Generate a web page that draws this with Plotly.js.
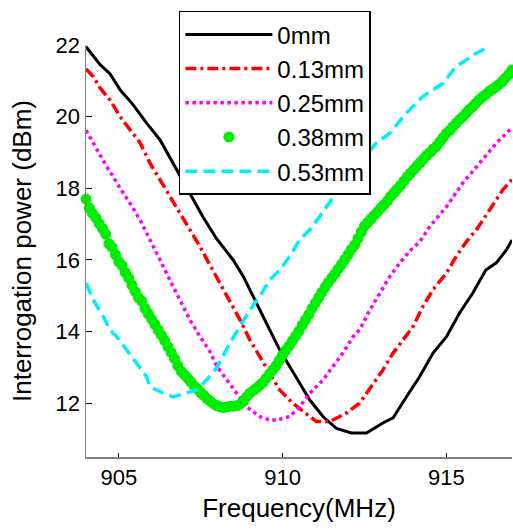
<!DOCTYPE html>
<html>
<head>
<meta charset="utf-8">
<script src="https://cdn.plot.ly/plotly-3.0.1.min.js"></script>
<style>html,body{margin:0;padding:0;background:#fff;}#chart{width:513px;height:530px;}</style>
</head>
<body>
<div id="chart"></div>
<script>
// Legend labels
const seriesNames = ["0mm", "0.13mm", "0.25mm", "0.38mm", "0.53mm"];

// 0mm (black solid)
const x0mm = [904.0, 904.2, 904.43, 904.73, 905.04, 905.44, 905.85, 906.26, 906.56, 906.87, 907.17, 907.57, 907.98, 908.49, 908.8, 909.1, 909.4, 909.6, 909.91, 910.22, 910.52, 910.83, 911.23, 911.64, 912.1, 912.56, 913.06, 913.37, 913.78, 914.18, 914.59, 915.0, 915.4, 915.8, 916.2, 916.52, 916.83, 917.0];
const y0mm = [21.95, 21.72, 21.45, 21.2, 20.75, 20.33, 19.82, 19.35, 18.85, 18.33, 17.87, 17.2, 16.6, 16.0, 15.54, 14.98, 14.42, 14.05, 13.49, 13.02, 12.56, 12.09, 11.63, 11.3, 11.17, 11.17, 11.45, 11.59, 12.18, 12.74, 13.4, 13.86, 14.52, 15.07, 15.72, 15.92, 16.28, 16.56];

// 0.13mm (red dash-dot)
const x013 = [904.0, 904.22, 904.43, 904.73, 905.04, 905.34, 905.65, 905.95, 906.26, 906.56, 906.87, 907.17, 907.48, 907.78, 908.09, 908.39, 908.7, 909.0, 909.3, 909.6, 909.91, 910.31, 910.72, 911.03, 911.44, 911.95, 912.35, 912.76, 913.06, 913.37, 913.67, 913.98, 914.28, 914.59, 915.0, 915.3, 915.6, 915.91, 916.32, 916.72, 917.0];
const y013 = [21.33, 21.12, 20.8, 20.47, 20.0, 19.63, 19.27, 18.71, 18.24, 17.77, 17.31, 16.84, 16.37, 15.86, 15.35, 14.89, 14.33, 13.77, 13.3, 12.84, 12.37, 12.0, 11.72, 11.49, 11.49, 11.73, 12.0, 12.56, 12.93, 13.4, 13.77, 14.14, 14.7, 15.17, 15.63, 16.1, 16.5, 16.84, 17.4, 17.96, 18.24];

// 0.25mm (magenta dotted)
const x025 = [904.0, 904.22, 904.43, 904.63, 904.83, 905.04, 905.34, 905.65, 905.85, 906.05, 906.26, 906.56, 906.87, 907.17, 907.48, 907.78, 907.98, 908.29, 908.6, 908.9, 909.3, 909.6, 909.81, 910.22, 910.52, 910.83, 911.23, 911.54, 911.84, 912.15, 912.35, 912.66, 912.96, 913.27, 913.57, 913.88, 914.18, 914.49, 915.0, 915.5, 916.01, 916.52, 916.93, 917.0];
const y025 = [19.62, 19.26, 18.89, 18.61, 18.33, 18.0, 17.59, 17.12, 16.75, 16.4, 16.0, 15.44, 14.89, 14.33, 13.86, 13.45, 13.05, 12.65, 12.28, 11.9, 11.63, 11.53, 11.53, 11.63, 11.9, 12.28, 12.65, 13.02, 13.4, 13.86, 14.05, 14.6, 15.07, 15.54, 15.91, 16.25, 16.5, 16.93, 17.49, 18.15, 18.7, 19.26, 19.63, 19.7];

// 0.38mm (green markers)
const x038 = [904.0, 904.1, 904.2, 904.3, 904.4, 904.5, 904.6, 904.7, 904.8, 904.9, 905.0, 905.1, 905.2, 905.3, 905.4, 905.5, 905.6, 905.7, 905.8, 905.9, 906.0, 906.1, 906.2, 906.3, 906.4, 906.5, 906.6, 906.7, 906.8, 906.9, 907.0, 907.1, 907.2, 907.3, 907.4, 907.5, 907.6, 907.7, 907.8, 907.9, 908.0, 908.1, 908.2, 908.3, 908.4, 908.5, 908.6, 908.7, 908.8, 908.9, 909.0, 909.1, 909.2, 909.3, 909.4, 909.5, 909.6, 909.7, 909.8, 909.9, 910.0, 910.1, 910.2, 910.3, 910.4, 910.5, 910.6, 910.7, 910.8, 910.9, 911.0, 911.1, 911.2, 911.3, 911.4, 911.5, 911.6, 911.7, 911.8, 911.9, 912.0, 912.1, 912.2, 912.3, 912.4, 912.5, 912.6, 912.7, 912.8, 912.9, 913.0, 913.1, 913.2, 913.3, 913.4, 913.5, 913.6, 913.7, 913.8, 913.9, 914.0, 914.1, 914.2, 914.3, 914.4, 914.5, 914.6, 914.7, 914.8, 914.9, 915.0, 915.1, 915.2, 915.3, 915.4, 915.5, 915.6, 915.7, 915.8, 915.9, 916.0, 916.1, 916.2, 916.3, 916.4, 916.5, 916.6, 916.7, 916.8, 916.9, 917.0];
const y038 = [17.70, 17.45, 17.30, 17.18, 17.02, 16.88, 16.72, 16.45, 16.35, 16.15, 15.95, 15.85, 15.65, 15.50, 15.30, 15.12, 14.95, 14.85, 14.65, 14.50, 14.35, 14.20, 14.05, 13.90, 13.75, 13.58, 13.42, 13.25, 13.05, 12.90, 12.80, 12.70, 12.60, 12.48, 12.40, 12.30, 12.22, 12.12, 12.05, 11.98, 11.93, 11.90, 11.88, 11.90, 11.92, 11.92, 11.93, 11.98, 12.05, 12.18, 12.28, 12.35, 12.42, 12.50, 12.58, 12.70, 12.82, 12.93, 13.05, 13.20, 13.35, 13.48, 13.60, 13.75, 13.88, 14.02, 14.18, 14.33, 14.48, 14.65, 14.80, 14.95, 15.10, 15.25, 15.38, 15.50, 15.62, 15.75, 15.88, 16.02, 16.15, 16.30, 16.42, 16.60, 16.78, 16.95, 17.05, 17.15, 17.25, 17.35, 17.45, 17.55, 17.65, 17.78, 17.88, 17.98, 18.08, 18.20, 18.32, 18.42, 18.52, 18.62, 18.72, 18.82, 18.92, 19.00, 19.10, 19.18, 19.30, 19.42, 19.54, 19.62, 19.72, 19.82, 19.92, 20.00, 20.10, 20.20, 20.28, 20.38, 20.47, 20.55, 20.62, 20.70, 20.76, 20.83, 20.90, 20.98, 21.08, 21.18, 21.30];

// 0.53mm (cyan dashed)
const x053 = [904.0, 904.22, 904.53, 904.73, 904.94, 905.24, 905.55, 905.85, 905.95, 906.36, 906.66, 907.07, 907.38, 907.68, 907.98, 908.39, 908.7, 909.0, 909.3, 909.6, 909.91, 910.22, 910.52, 910.83, 911.13, 911.44, 911.64, 912.05, 912.86, 913.27, 913.78, 914.28, 914.89, 915.3, 915.91, 916.32];
const y053 = [15.35, 14.89, 14.42, 14.05, 13.86, 13.49, 13.12, 12.74, 12.46, 12.28, 12.18, 12.28, 12.37, 12.65, 12.98, 13.68, 14.14, 14.6, 14.98, 15.44, 15.72, 16.1, 16.56, 16.84, 17.21, 17.59, 17.87, 18.42, 19.26, 19.54, 20.1, 20.56, 20.93, 21.4, 21.77, 21.96];

const xTicks = [905, 910, 915];
const yTicks = [12, 14, 16, 18, 20, 22];

const FONT = "Arial, 'Liberation Sans', sans-serif";

const traces = [
  {x: x0mm, y: y0mm, name: seriesNames[0], mode: "lines", line: {color: "#000000", width: 3}},
  {x: x013, y: y013, name: seriesNames[1], mode: "lines", line: {color: "#ff0000", width: 3.5, dash: "11px,4px,3px,4px"}},
  {x: x025, y: y025, name: seriesNames[2], mode: "lines", line: {color: "#ff00ff", width: 3.5, dash: "3.5px,3.5px"}},
  {x: x038, y: y038, name: seriesNames[3], mode: "markers", cliponaxis: false, marker: {color: "#00ee00", size: 11, line: {width: 0}}},
  {x: x053, y: y053, name: seriesNames[4], mode: "lines", line: {color: "#00eeff", width: 3.5, dash: "12px,6px"}}
];

const layout = {
  width: 513, height: 530,
  margin: {l: 86, r: 1, t: 45, b: 73, pad: 0},
  paper_bgcolor: "#ffffff", plot_bgcolor: "#ffffff",
  font: {family: FONT, color: "#000000", size: 22},
  showlegend: true,
  legend: {
    x: 0.218, y: 1.083, xanchor: "left", yanchor: "top",
    bgcolor: "#ffffff", bordercolor: "#000000", borderwidth: 1.5,
    font: {family: FONT, size: 24, color: "#000000"},
    itemwidth: 87
  },
  xaxis: {
    range: [904, 917], tickvals: xTicks, ticktext: xTicks.map(String),
    ticks: "inside", ticklen: 4, tickcolor: "#000000", tickwidth: 1,
    showline: true, linecolor: "#808080", linewidth: 1.5, mirror: false,
    showgrid: false, zeroline: false,
    tickfont: {family: FONT, size: 22, color: "#000000"},
    title: {text: "Frequency(MHz)", font: {family: FONT, size: 26, color: "#000000"}, standoff: 10}
  },
  yaxis: {
    range: [10.5, 22], tickvals: yTicks, ticktext: yTicks.map(String),
    ticks: "inside", ticklen: 6, tickcolor: "#000000", tickwidth: 1,
    showline: true, linecolor: "#808080", linewidth: 1.5, mirror: false,
    showgrid: false, zeroline: false,
    tickfont: {family: FONT, size: 22, color: "#000000"},
    title: {text: "Interrogation power (dBm)", font: {family: FONT, size: 26, color: "#000000"}, standoff: 16}
  }
};

Plotly.newPlot("chart", traces, layout, {displayModeBar: false, staticPlot: true});
</script>
</body>
</html>
